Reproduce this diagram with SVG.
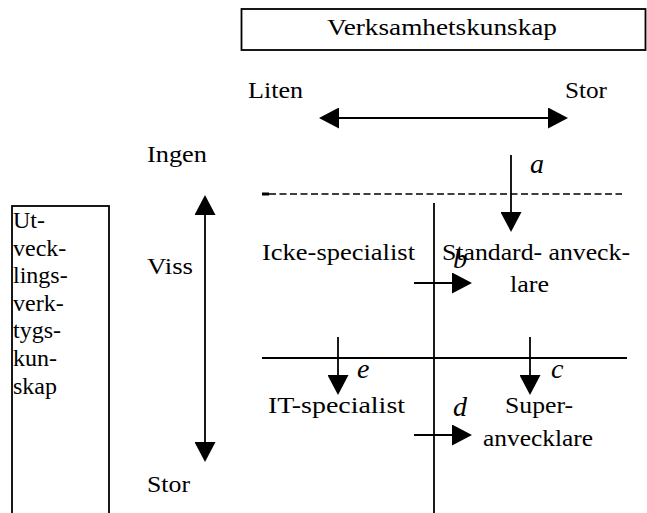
<svg xmlns="http://www.w3.org/2000/svg" width="647" height="513" viewBox="0 0 647 513">
  <style>
    text { font-family: "Liberation Serif", "Times New Roman", Times, Tinos, "Nimbus Roman", serif; fill: #000; }
    .lbl { font-size: 24px; }
    .it { font-size: 28px; font-style: italic; }
    .box { fill: #fff; stroke: #000; stroke-width: 1.8; }
    .ln { stroke: #000; stroke-width: 1.8; fill: none; }
    .dash { stroke: #000; stroke-width: 1.6; stroke-dasharray: 7 3.5; fill: none; }
  </style>
  <defs>
    <marker id="head" viewBox="0 0 20 21" refX="10" refY="10.5" markerWidth="20" markerHeight="21" markerUnits="userSpaceOnUse" orient="auto-start-reverse">
      <path d="M0,0 L20,10.5 L0,21 Z" fill="#000"/>
    </marker>
  </defs>

  <rect width="647" height="513" fill="#fff"/>

  <!-- Business knowledge axis -->
  <g id="verksamhetskunskap">
    <rect class="box" x="241.5" y="9" width="404" height="41"/>
    <text class="lbl" x="327" y="35" textLength="230" lengthAdjust="spacingAndGlyphs">Verksamhetskunskap</text>
  </g>
  <g id="liten">
    <text class="lbl" x="248" y="98" textLength="55" lengthAdjust="spacingAndGlyphs">Liten</text>
  </g>
  <g id="stor-top">
    <text class="lbl" x="565" y="98" textLength="42" lengthAdjust="spacingAndGlyphs">Stor</text>
  </g>

  <!-- Development tool knowledge axis -->
  <g id="utvecklingsverktygskunskap">
    <rect class="box" x="12" y="206" width="97" height="320"/>
    <text class="lbl" x="13" y="228">Ut-</text>
    <text class="lbl" x="13" y="255.6">veck-</text>
    <text class="lbl" x="13" y="283.2">lings-</text>
    <text class="lbl" x="13" y="310.8">verk-</text>
    <text class="lbl" x="13" y="338.4">tygs-</text>
    <text class="lbl" x="13" y="366">kun-</text>
    <text class="lbl" x="13" y="393.6">skap</text>
  </g>
  <g id="ingen">
    <text class="lbl" x="147" y="162" textLength="60" lengthAdjust="spacingAndGlyphs">Ingen</text>
  </g>
  <g id="viss">
    <text class="lbl" x="147" y="274" textLength="46" lengthAdjust="spacingAndGlyphs">Viss</text>
  </g>
  <g id="stor-left">
    <text class="lbl" x="147" y="492" textLength="43" lengthAdjust="spacingAndGlyphs">Stor</text>
  </g>

  <!-- Quadrants -->
  <g id="icke-specialist">
    <text class="lbl" x="262" y="260" textLength="153" lengthAdjust="spacingAndGlyphs">Icke-specialist</text>
  </g>
  <g id="standardanvecklare">
    <text class="lbl" x="442" y="260" textLength="188" lengthAdjust="spacingAndGlyphs">Standard- anveck-</text>
    <text class="lbl" x="510" y="292" textLength="39" lengthAdjust="spacingAndGlyphs">lare</text>
  </g>
  <g id="it-specialist">
    <text class="lbl" x="268" y="413" textLength="137" lengthAdjust="spacingAndGlyphs">IT-specialist</text>
  </g>
  <g id="superanvecklare">
    <text class="lbl" x="505" y="413" textLength="68" lengthAdjust="spacingAndGlyphs">Super-</text>
    <text class="lbl" x="483" y="446" textLength="110" lengthAdjust="spacingAndGlyphs">anvecklare</text>
  </g>

  <!-- Axes, boundaries and transitions -->
  <g id="connectors">
    <line class="ln" x1="329" y1="118" x2="558" y2="118" marker-start="url(#head)" marker-end="url(#head)"/>
    <line class="ln" x1="205" y1="205" x2="205" y2="452" marker-start="url(#head)" marker-end="url(#head)"/>
    <line x1="262" y1="194" x2="269" y2="194" stroke="#000" stroke-width="3"/>
    <line class="dash" x1="269" y1="194" x2="622" y2="194"/>
    <line class="ln" x1="434" y1="203" x2="434" y2="513"/>
    <line class="ln" x1="262" y1="358" x2="627" y2="358"/>
    <line class="ln" x1="511" y1="155" x2="511" y2="222" marker-end="url(#head)"/>
    <line class="ln" x1="414" y1="283" x2="462" y2="283" marker-end="url(#head)"/>
    <line class="ln" x1="338" y1="337" x2="338" y2="385" marker-end="url(#head)"/>
    <line class="ln" x1="530" y1="337" x2="530" y2="385" marker-end="url(#head)"/>
    <line class="ln" x1="414" y1="435" x2="462" y2="435" marker-end="url(#head)"/>
  </g>

  <!-- Transition labels -->
  <g id="labels">
    <text class="it" x="530" y="173">a</text>
    <text class="it" x="453" y="268">b</text>
    <text class="it" x="551" y="378">c</text>
    <text class="it" x="453" y="416">d</text>
    <text class="it" x="357" y="378">e</text>
  </g>
</svg>
